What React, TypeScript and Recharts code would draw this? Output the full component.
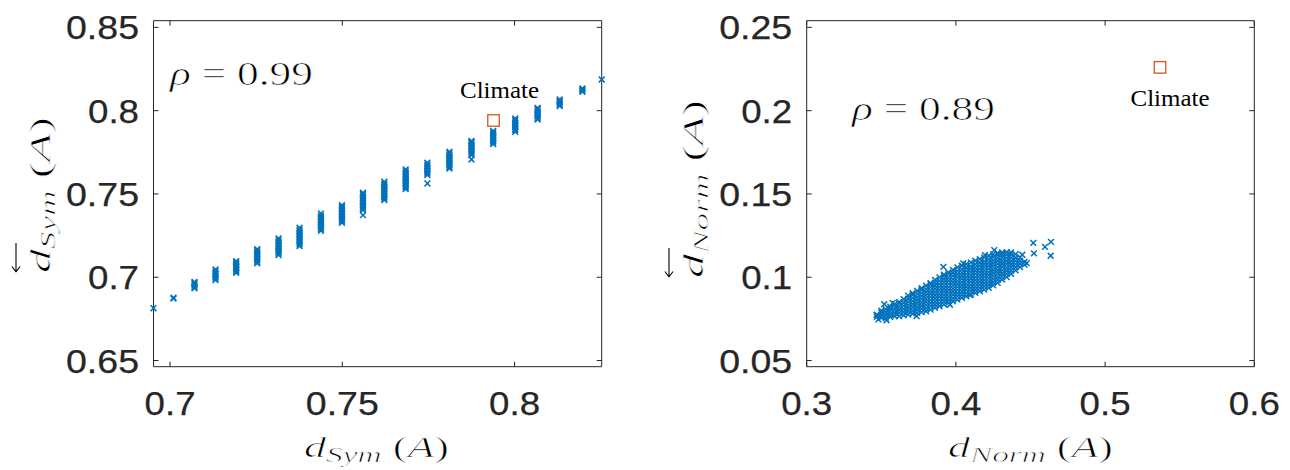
import React from 'react';
import { ScatterChart, Scatter, XAxis, YAxis } from 'recharts';

// ---------- data ----------
const symX = [0.6952, 0.701, 0.7071, 0.7132, 0.7192, 0.7253, 0.7315, 0.7376, 0.7438, 0.7499, 0.756, 0.7622, 0.7684, 0.7747, 0.7811, 0.7875, 0.7938, 0.8002, 0.8067, 0.8131, 0.8197, 0.8253];
const symY = [
  [0.6814],
  [0.6872, 0.6878],
  [0.6933, 0.6941, 0.695, 0.6958, 0.6966, 0.6972],
  [0.6983, 0.6992, 0.7001, 0.701, 0.7019, 0.7028, 0.7037, 0.7047],
  [0.7027, 0.7036, 0.7045, 0.7054, 0.7063, 0.7072, 0.7081, 0.709, 0.7097],
  [0.7083, 0.7092, 0.7101, 0.711, 0.7119, 0.7128, 0.7137, 0.7146, 0.7155, 0.7163, 0.7169],
  [0.7133, 0.7142, 0.7151, 0.716, 0.7169, 0.7178, 0.7187, 0.7196, 0.7205, 0.7214, 0.7223, 0.7233],
  [0.7187, 0.7196, 0.7205, 0.7214, 0.7223, 0.7232, 0.7241, 0.725, 0.7259, 0.7268, 0.7277, 0.7286, 0.7297],
  [0.7279, 0.7288, 0.7297, 0.7306, 0.7315, 0.7324, 0.7333, 0.7342, 0.7351, 0.736, 0.7369, 0.7383],
  [0.7327, 0.7336, 0.7345, 0.7354, 0.7363, 0.7372, 0.7381, 0.739, 0.7399, 0.7408, 0.7417, 0.7426, 0.7433],
  [0.7373, 0.7403, 0.7412, 0.7421, 0.743, 0.7439, 0.7448, 0.7457, 0.7466, 0.7475, 0.7484, 0.7493, 0.75, 0.7507],
  [0.7463, 0.7472, 0.7481, 0.749, 0.7499, 0.7508, 0.7517, 0.7526, 0.7535, 0.7544, 0.7553, 0.7562, 0.7573],
  [0.7529, 0.7538, 0.7547, 0.7556, 0.7565, 0.7574, 0.7583, 0.7592, 0.7601, 0.761, 0.7619, 0.7628, 0.7637, 0.7647],
  [0.7563, 0.7613, 0.7622, 0.7631, 0.764, 0.7649, 0.7658, 0.7667, 0.7676, 0.7687],
  [0.7653, 0.7662, 0.7671, 0.768, 0.7689, 0.7698, 0.7707, 0.7716, 0.7725, 0.7734, 0.7743, 0.7753],
  [0.7707, 0.7733, 0.7742, 0.7751, 0.776, 0.7769, 0.7778, 0.7787, 0.7796, 0.7805, 0.7812, 0.7819],
  [0.7799, 0.7808, 0.7817, 0.7826, 0.7835, 0.7844, 0.7853, 0.7862, 0.7871, 0.7879],
  [0.7873, 0.7882, 0.7891, 0.79, 0.7909, 0.7918, 0.7927, 0.7936, 0.7945, 0.7953],
  [0.7947, 0.7956, 0.7965, 0.7974, 0.7983, 0.7992, 0.8001, 0.801, 0.8017],
  [0.8027, 0.8035, 0.8043, 0.8051, 0.8059, 0.8067],
  [0.8113, 0.812, 0.8127, 0.8133],
  [0.8187],
];
const symClimate = [{ x: 0.7939, y: 0.7941 }];

const normX = [0.347, 0.35, 0.353, 0.356, 0.359, 0.362, 0.365, 0.368, 0.371, 0.374, 0.377, 0.38, 0.383, 0.386, 0.389, 0.392, 0.395, 0.398, 0.401, 0.404, 0.407, 0.41, 0.413, 0.416, 0.419, 0.422, 0.425, 0.428, 0.431, 0.434, 0.437, 0.44, 0.443, 0.446];
const normY = [
  [0.0762, 0.0776],
  [0.0757, 0.0771, 0.0788, 0.0799],
  [0.0756, 0.0773, 0.079, 0.0808],
  [0.0762, 0.0778, 0.0795, 0.0812, 0.0824],
  [0.0766, 0.0784, 0.0801, 0.0818, 0.0838],
  [0.0767, 0.0786, 0.0805, 0.0824, 0.0843, 0.085],
  [0.0771, 0.079, 0.0809, 0.0828, 0.0847, 0.0868],
  [0.0776, 0.0795, 0.0814, 0.0833, 0.0852, 0.0871, 0.0889],
  [0.0781, 0.08, 0.0819, 0.0838, 0.0857, 0.0876, 0.0895, 0.0904],
  [0.0786, 0.0805, 0.0824, 0.0843, 0.0862, 0.0881, 0.09, 0.0918],
  [0.0791, 0.081, 0.0829, 0.0848, 0.0867, 0.0886, 0.0905, 0.0924, 0.0934],
  [0.0796, 0.0815, 0.0834, 0.0853, 0.0872, 0.0891, 0.091, 0.0929, 0.0949],
  [0.0806, 0.0825, 0.0844, 0.0863, 0.0882, 0.0901, 0.092, 0.0939, 0.0958, 0.0965],
  [0.0816, 0.0835, 0.0854, 0.0873, 0.0892, 0.0911, 0.093, 0.0949, 0.0968, 0.0984],
  [0.0826, 0.0845, 0.0864, 0.0883, 0.0902, 0.0921, 0.094, 0.0959, 0.0978, 0.0999],
  [0.0836, 0.0855, 0.0874, 0.0893, 0.0912, 0.0931, 0.095, 0.0969, 0.0988, 0.1007, 0.1015],
  [0.0846, 0.0865, 0.0884, 0.0903, 0.0922, 0.0941, 0.096, 0.0979, 0.0998, 0.1017, 0.1029],
  [0.0856, 0.0875, 0.0894, 0.0913, 0.0932, 0.0951, 0.097, 0.0989, 0.1008, 0.1027, 0.1044],
  [0.0866, 0.0885, 0.0904, 0.0923, 0.0942, 0.0961, 0.098, 0.0999, 0.1018, 0.1037, 0.1059],
  [0.0876, 0.0895, 0.0914, 0.0933, 0.0952, 0.0971, 0.099, 0.1009, 0.1028, 0.1047, 0.1069],
  [0.0886, 0.0905, 0.0924, 0.0943, 0.0962, 0.0981, 0.1, 0.1019, 0.1038, 0.1057, 0.1079],
  [0.0896, 0.0915, 0.0934, 0.0953, 0.0972, 0.0991, 0.101, 0.1029, 0.1048, 0.1067, 0.1089],
  [0.0906, 0.0925, 0.0944, 0.0963, 0.0982, 0.1001, 0.102, 0.1039, 0.1058, 0.1077, 0.1099],
  [0.0916, 0.0935, 0.0954, 0.0973, 0.0992, 0.1011, 0.103, 0.1049, 0.1068, 0.1087, 0.1109],
  [0.0926, 0.0945, 0.0964, 0.0983, 0.1002, 0.1021, 0.104, 0.1059, 0.1078, 0.1097, 0.1119],
  [0.0936, 0.0955, 0.0974, 0.0993, 0.1012, 0.1031, 0.105, 0.1069, 0.1088, 0.1107, 0.1129],
  [0.0951, 0.097, 0.0989, 0.1008, 0.1027, 0.1046, 0.1065, 0.1084, 0.1103, 0.1122, 0.1139],
  [0.0966, 0.0985, 0.1004, 0.1023, 0.1042, 0.1061, 0.108, 0.1099, 0.1118, 0.1137, 0.1145],
  [0.0986, 0.1005, 0.1024, 0.1043, 0.1062, 0.1081, 0.11, 0.1119, 0.1138, 0.1149],
  [0.1001, 0.102, 0.1039, 0.1058, 0.1077, 0.1096, 0.1115, 0.1134, 0.115],
  [0.1021, 0.104, 0.1059, 0.1078, 0.1097, 0.1116, 0.1135, 0.1149],
  [0.1041, 0.106, 0.1079, 0.1098, 0.1117, 0.1139],
  [0.1061, 0.108, 0.1099, 0.1119],
  [0.1076, 0.1092],
];
const normOutliers = [
  { x: 0.3469, y: 0.0773 }, { x: 0.348, y: 0.0747 }, { x: 0.3535, y: 0.0742 }, { x: 0.3576, y: 0.0846 },
  { x: 0.352, y: 0.0838 }, { x: 0.3737, y: 0.0767 }, { x: 0.3916, y: 0.1062 }, { x: 0.396, y: 0.0835 },
  { x: 0.405, y: 0.1083 }, { x: 0.4094, y: 0.0893 }, { x: 0.4195, y: 0.1133 }, { x: 0.4257, y: 0.1163 },
  { x: 0.4445, y: 0.1135 }, { x: 0.4475, y: 0.1085 }, { x: 0.4519, y: 0.1206 }, { x: 0.4523, y: 0.1143 },
  { x: 0.4597, y: 0.1182 }, { x: 0.4637, y: 0.1212 }, { x: 0.4635, y: 0.1129 },
];
const normClimate = [{ x: 0.5368, y: 0.226 }];

const symXTicks = [0.7, 0.75, 0.8];
const symYTicks = [0.65, 0.7, 0.75, 0.8, 0.85];
const normXTicks = [0.3, 0.4, 0.5, 0.6];
const normYTicks = [0.05, 0.1, 0.15, 0.2, 0.25];
const symXDomain = [0.6952, 0.8253];
const symYDomain = [0.6463, 0.854];
const normXDomain = [0.3, 0.6];
const normYDomain = [0.0463, 0.254];
const rhoSym = '0.99';
const rhoNorm = '0.89';
const climateLabel = 'Climate';

// ---------- build tables ----------
const symData = symX.flatMap((x, i) => symY[i].map((y) => ({ x, y })));
const normData = normX.flatMap((x, i) => normY[i].map((y) => ({ x, y }))).concat(normOutliers);

// ---------- styles ----------
const AXIS = '#262626';
const BLUE = '#0072BD';
const ORANGE = '#D95319';
const SANS = 'Liberation Sans';
const SERIF = 'Liberation Serif';
// thin white outline that slims the horizontally stretched serif glyphs
const THIN = { stroke: '#fff', strokeWidth: 0.7 } as const;

const XMark = (props: any) => {
  const { cx, cy } = props;
  if (cx == null || cy == null) return <g />;
  const h = 2.9;
  return (
    <path
      d={`M${cx - h},${cy - h}L${cx + h},${cy + h}M${cx - h},${cy + h}L${cx + h},${cy - h}`}
      stroke={BLUE}
      strokeWidth={1.5}
      fill="none"
    />
  );
};

const makeClimate = (dx: number, dy: number) => (props: any) => {
  const { cx, cy } = props;
  if (cx == null || cy == null) return <g />;
  const s = 11.5;
  return (
    <g>
      <rect x={cx - s / 2} y={cy - s / 2} width={s} height={s} fill="none" stroke={ORANGE} strokeWidth={1.3} />
      <text x={cx + dx} y={cy + dy} textAnchor="middle" fontFamily={SERIF} fontSize={23} fill="#000"
        textLength={79} lengthAdjust="spacingAndGlyphs">{climateLabel}</text>
    </g>
  );
};

const labelWidth = (s: string) => (s.length >= 4 ? 73 : 51);

const makeXTick = (baseline: number) => (props: any) => {
  const s = String(props.payload.value);
  return (
    <text x={props.x} y={baseline} textAnchor="middle" fontFamily={SANS} fontSize={33} fill={AXIS}
      stroke={AXIS} strokeWidth={0.25} textLength={labelWidth(s)} lengthAdjust="spacingAndGlyphs">{s}</text>
  );
};
const makeYTick = (right: number) => (props: any) => {
  const s = String(props.payload.value);
  return (
    <text x={right} y={props.y + 12} textAnchor="end" fontFamily={SANS} fontSize={33} fill={AXIS}
      stroke={AXIS} strokeWidth={0.25} textLength={labelWidth(s)} lengthAdjust="spacingAndGlyphs">{s}</text>
  );
};
const NoTick = () => <g />;

type PanelProps = {
  left: number; width: number; plotLeft: number; plotRight: number;
  data: any[]; climate: any[]; xDomain: number[]; yDomain: number[];
  xTicks: number[]; yTicks: number[]; climateShape: any;
};

const TOP = 20.7;
const BOTTOM = 366.7;
const H = 470;

const Panel = ({ left, width, plotLeft, plotRight, data, climate, xDomain, yDomain, xTicks, yTicks, climateShape }: PanelProps) => (
  <div style={{ position: 'absolute', left, top: 0, width, height: H }}>
    <ScatterChart width={width} height={H}
      margin={{ top: TOP, bottom: H - BOTTOM, left: plotLeft, right: width - plotRight }}>
      <XAxis xAxisId="b" type="number" dataKey="x" domain={xDomain} ticks={xTicks} orientation="bottom" mirror
        tickSize={5} tickMargin={0} interval={0} stroke={AXIS} tickLine={{ stroke: AXIS }} tick={makeXTick(415)} />
      <XAxis xAxisId="t" type="number" dataKey="x" domain={xDomain} ticks={xTicks} orientation="top" mirror
        allowDataOverflow tickSize={5} interval={0} stroke={AXIS} tickLine={{ stroke: AXIS }} tick={NoTick} />
      <YAxis yAxisId="l" type="number" dataKey="y" domain={yDomain} ticks={yTicks} orientation="left" mirror
        tickSize={5} tickMargin={0} interval={0} stroke={AXIS} tickLine={{ stroke: AXIS }} tick={makeYTick(plotLeft - 14.5)} />
      <YAxis yAxisId="r" type="number" dataKey="y" domain={yDomain} ticks={yTicks} orientation="right" mirror
        allowDataOverflow tickSize={5} interval={0} stroke={AXIS} tickLine={{ stroke: AXIS }} tick={NoTick} />
      <Scatter xAxisId="b" yAxisId="l" data={data} shape={XMark} isAnimationActive={false} />
      <Scatter xAxisId="b" yAxisId="l" data={climate} shape={climateShape} isAnimationActive={false} />
    </ScatterChart>
  </div>
);

const Arrow = () => (
  <path d="M30,-34 L1,-34 M1,-34 L6.5,-38 M1,-34 L6.5,-30" stroke="#000" strokeWidth={1.1} fill="none" />
);

const Title = ({ sub, size, subSize, len }: { sub: string; size: number; subSize: number; len: number }) => (
  <text x={0} y={0} fontFamily={SERIF} fontSize={size} fill="#000" textLength={len} lengthAdjust="spacingAndGlyphs" {...THIN}>
    <tspan fontStyle="italic">d</tspan>
    <tspan fontStyle="italic" fontSize={subSize} dy={5}>{sub}</tspan>
    <tspan dy={-5}> (</tspan>
    <tspan fontStyle="italic">A</tspan>
    <tspan>)</tspan>
  </text>
);

export default function App() {
  return (
    <div style={{ position: 'absolute', left: 0, top: 0, width: 1290, height: 470, background: '#fff', overflow: 'hidden' }}>
      <Panel left={0} width={640} plotLeft={153.5} plotRight={601.7} data={symData} climate={symClimate}
        xDomain={symXDomain} yDomain={symYDomain} xTicks={symXTicks} yTicks={symYTicks} climateShape={makeClimate(6, -22)} />
      <Panel left={640} width={650} plotLeft={166.7} plotRight={614.3} data={normData} climate={normClimate}
        xDomain={normXDomain} yDomain={normYDomain} xTicks={normXTicks} yTicks={normYTicks} climateShape={makeClimate(10, 39)} />
      <svg width={1290} height={470} style={{ position: 'absolute', left: 0, top: 0, pointerEvents: 'none' }}>
        {/* correlation annotations */}
        <text x={170} y={85} fontFamily={SERIF} fontSize={33} fill="#000" textLength={143} lengthAdjust="spacingAndGlyphs" {...THIN}>
          <tspan fontStyle="italic">ρ</tspan> = {rhoSym}
        </text>
        <text x={852} y={120} fontFamily={SERIF} fontSize={33} fill="#000" textLength={143} lengthAdjust="spacingAndGlyphs" {...THIN}>
          <tspan fontStyle="italic">ρ</tspan> = {rhoNorm}
        </text>
        {/* x titles */}
        <g transform="translate(304,456.5)">
          <Title sub="Sym" size={29} subSize={22} len={145} />
        </g>
        <g transform="translate(948,456.5)">
          <Title sub="Norm" size={29} subSize={22} len={165} />
        </g>
        {/* y titles */}
        <g transform="translate(50,273) rotate(-90)">
          <Title sub="Sym" size={30} subSize={22} len={156} />
          <Arrow />
        </g>
        <g transform="translate(703,278) rotate(-90)">
          <Title sub="Norm" size={30} subSize={22} len={178} />
          <Arrow />
        </g>
      </svg>
    </div>
  );
}
